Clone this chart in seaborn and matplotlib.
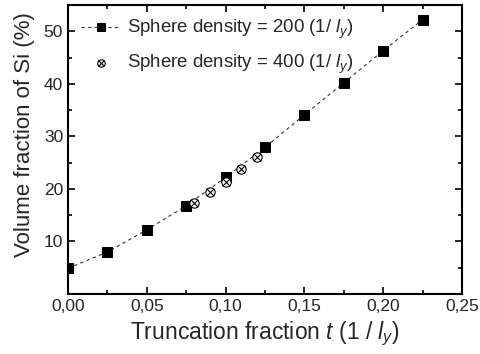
import matplotlib
matplotlib.use("Agg")
import matplotlib.pyplot as plt
import seaborn as sns
import pandas as pd
from matplotlib.ticker import FuncFormatter, MultipleLocator

# data
t_200 = [0.0, 0.025, 0.05, 0.075, 0.10, 0.125, 0.15, 0.175, 0.20, 0.225]
vf_200 = [4.9, 8.0, 12.2, 16.8, 22.2, 27.9, 34.1, 40.2, 46.3, 52.2]
t_400 = [0.08, 0.09, 0.10, 0.11, 0.12]
vf_400 = [17.3, 19.4, 21.4, 23.8, 26.1]

df200 = pd.DataFrame({"t": t_200, "vf": vf_200})
df400 = pd.DataFrame({"t": t_400, "vf": vf_400})

sns.set_style("ticks")
plt.rcParams["font.family"] = ["Liberation Sans", "DejaVu Sans"]
plt.rcParams["mathtext.fontset"] = "custom"
plt.rcParams["mathtext.rm"] = "Liberation Sans"
plt.rcParams["mathtext.it"] = "Liberation Sans:italic"

fig = plt.figure(figsize=(4.8, 3.54), dpi=100)
ax = fig.add_axes([0.1417, 0.1695, 0.8208, 0.8165])

sns.lineplot(data=df200, x="t", y="vf", ax=ax, color="#333333", lw=0.8,
             linestyle=(0, (3, 3)), marker="s", markersize=7,
             markerfacecolor="black", markeredgecolor="black")
line200 = ax.lines[-1]

c1 = ax.scatter(df400["t"], df400["vf"], s=45, facecolors="white",
                edgecolors="black", linewidths=0.8, zorder=3)
c2 = ax.scatter(df400["t"], df400["vf"], s=30, marker="x", color="black",
                linewidths=0.8, zorder=4)

ax.legend([line200, (c1, c2)],
          [r"Sphere density = 200 (1/ $l_y$)", r"Sphere density = 400 (1/ $l_y$)"],
          loc="upper left", frameon=False, fontsize=13.4, handlelength=2.1,
          handletextpad=0.35, borderaxespad=0.3, labelspacing=0.6,
          markerscale=0.8, bbox_to_anchor=(0.0, 1.0))

ax.set_xlim(0, 0.25)
ax.set_ylim(0, 55)
ax.set_xticks([0, 0.05, 0.10, 0.15, 0.20, 0.25])
ax.xaxis.set_minor_locator(MultipleLocator(0.025))
ax.set_yticks([10, 20, 30, 40, 50])
ax.yaxis.set_minor_locator(MultipleLocator(5))
ax.xaxis.set_major_formatter(FuncFormatter(lambda v, p: f"{v:.2f}".replace(".", ",")))
ax.tick_params(which="both", direction="in", top=True, right=True, width=1.2,
               labelsize=12.5, color="black")
ax.tick_params(which="major", length=5)
ax.tick_params(which="minor", length=3)
for s in ax.spines.values():
    s.set_linewidth(1.5)
    s.set_color("black")

ax.set_xlabel(r"Truncation fraction $t$ (1 / $l_y$)", fontsize=16.5)
ax.set_ylabel("Volume fraction of Si (%)", fontsize=16)
ax.yaxis.set_label_coords(-0.085, 0.55)

fig.savefig("out.png", dpi=100)
